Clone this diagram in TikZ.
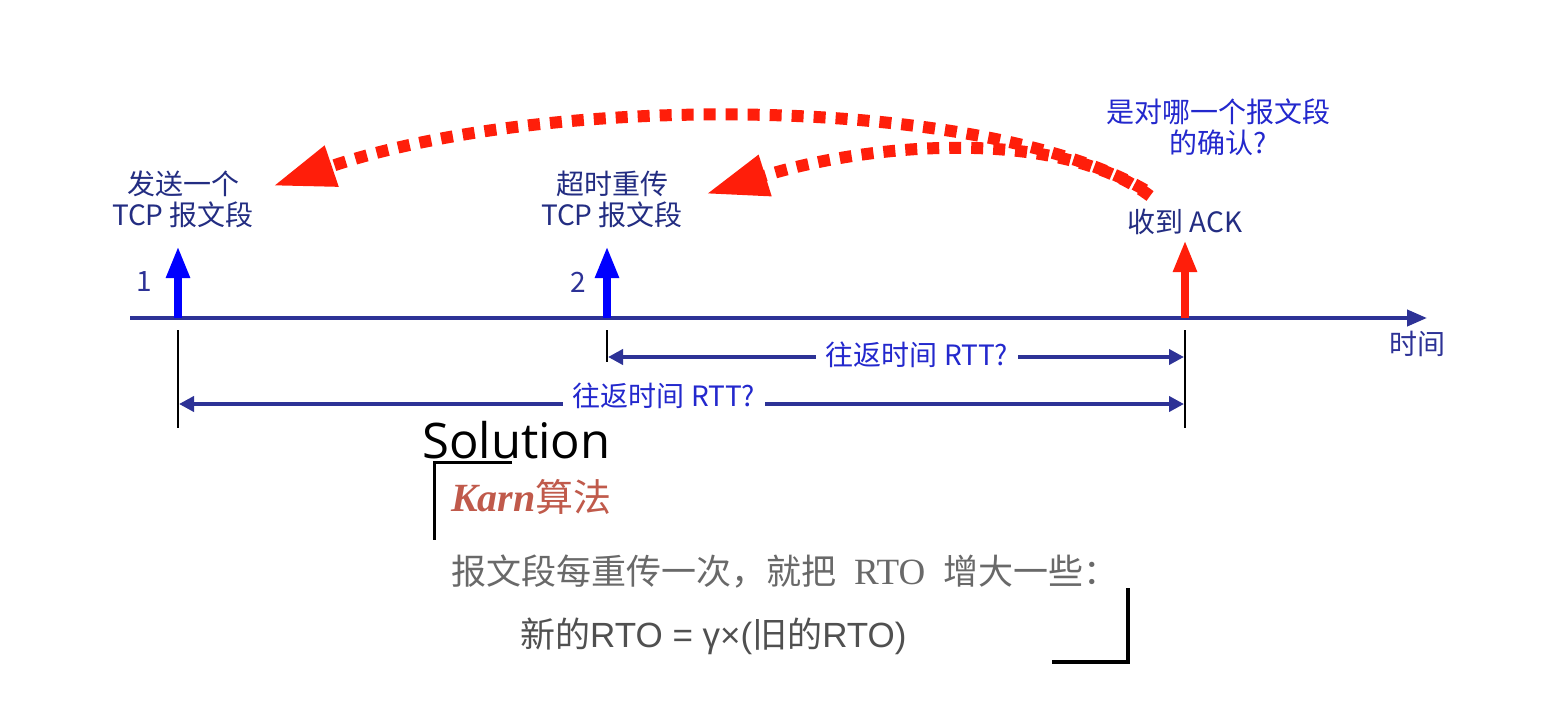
\documentclass[tikz,border=0pt]{standalone}
\usepackage{fontspec}
\setmainfont{Noto Sans CJK SC}
\newfontfamily\cjk{Noto Sans CJK SC}
\newfontfamily\solfont{Open Sans}
\newfontfamily\karnfont{Liberation Serif}
\newfontfamily\arialfont{Liberation Sans}
\usetikzlibrary{arrows.meta}
\definecolor{navy}{RGB}{35,45,130}
\definecolor{axis}{RGB}{45,50,150}
\definecolor{qblue}{RGB}{35,40,205}
\definecolor{pureblue}{RGB}{0,0,255}
\definecolor{ackred}{RGB}{255,30,10}
\definecolor{karn}{RGB}{192,90,75}
\definecolor{grey1}{RGB}{105,105,105}
\definecolor{grey2}{RGB}{80,80,80}
\tikzset{
  lbl/.style={text=navy,font=\cjk\fontsize{28}{31}\selectfont,inner sep=0pt,align=center},
  qlbl/.style={text=qblue,font=\cjk\fontsize{28}{31}\selectfont,inner sep=0pt,align=center},
  rttlbl/.style={text=qblue,font=\cjk\fontsize{28}{30}\selectfont,fill=white,inner xsep=10pt,inner ysep=0pt},
  sendarrow/.style={pureblue,line width=8pt,-{Triangle[length=32pt,width=22pt]}},
  ackarrow/.style={ackred,line width=8pt,-{Triangle[length=32pt,width=22pt]}},
  timeaxis/.style={axis,line width=4pt,-{Triangle[length=20pt,width=16pt]}},
  tick/.style={black,line width=2pt},
  rtt/.style={axis,line width=4pt,{Triangle[length=15pt,width=15pt]}-{Triangle[length=15pt,width=15pt]}},
  redarc/.style={ackred,line width=12pt,dash pattern=on 12pt off 10pt,-{Triangle[length=62pt,width=40pt]}},
  bracket/.style={black,line width=3pt},
}
\begin{document}
\begin{tikzpicture}[x=1pt,y=-1pt]
\useasboundingbox[fill=white] (0,0) rectangle (1546,701);

% timeline
\coordinate (axL) at (130,318);
\coordinate (axR) at (1427,318);
\draw[timeaxis] (axL) -- (axR);
\node[lbl,anchor=west,text=axis] (time) at (1389,344) {时间};

% event points
\coordinate (e1) at (178,318);
\coordinate (e2) at (607,318);
\coordinate (e3) at (1185,318);
\coordinate (t1) at (178,246);
\coordinate (t2) at (607,246);
\coordinate (t3) at (1185,240);
\draw[sendarrow] (e1) -- (t1);
\draw[sendarrow] (e2) -- (t2);
\draw[ackarrow] (e3) -- (t3);

\node[lbl,text=axis] (n1) at (144,282) {1};
\node[lbl,text=axis] (n2) at (578,282) {2};

\node[lbl] (send) at (183,199) {发送一个\\TCP 报文段};
\node[lbl] (resend) at (612,199) {超时重传\\TCP 报文段};
\node[lbl] (ack) at (1185,222) {收到 ACK};
\node[qlbl] (q) at (1218,127) {是对哪一个报文段\\的确认?};

% ticks
\coordinate (k1a) at (178,330); \coordinate (k1b) at (178,428);
\coordinate (k2a) at (607,330); \coordinate (k2b) at (607,362);
\coordinate (k3a) at (1185,330); \coordinate (k3b) at (1185,428);
\draw[tick] (k1a) -- (k1b);
\draw[tick] (k2a) -- (k2b);
\draw[tick] (k3a) -- (k3b);

% RTT arrows
\coordinate (r2a) at (608,357); \coordinate (r2b) at (1184,357);
\coordinate (r1a) at (179,404); \coordinate (r1b) at (1184,404);
\draw[rtt] (r2a) -- (r2b);
\draw[rtt] (r1a) -- (r1b);
\node[rttlbl] (rttA) at (917,355) {往返时间 RTT?};
\node[rttlbl] (rttB) at (664,396) {往返时间 RTT?};

% red dotted arcs
\coordinate (s1) at (1145,190);
\coordinate (s2) at (1150,196);
\coordinate (h1) at (273,186);
\coordinate (h2) at (706,194);
\draw[redarc] (s1) .. controls (980,95) and (550,92) .. (h1);
\draw[redarc] (s2) .. controls (1060,128) and (872,142) .. (h2);

% solution part
\node[anchor=west,inner sep=0pt,font=\solfont\fontsize{49}{52}\selectfont] (sol) at (422,440) {Solution};
\coordinate (b1a) at (512,462); \coordinate (b1c) at (434,462); \coordinate (b1b) at (434,540);
\draw[bracket] (b1a) -- (b1c) -- (b1b);
\node[anchor=west,inner sep=0pt,text=karn] (karn) at (451,497)
  {\karnfont\fontsize{40}{44}\selectfont\bfseries\itshape Karn\cjk\mdseries\upshape\fontsize{38}{44}\selectfont 算法};
\node[anchor=west,inner sep=0pt,text=grey1,font=\cjk\fontsize{35}{40}\selectfont] (line1) at (451,572)
  {报文段每重传一次，就把\hspace{18pt}{\karnfont\fontsize{37}{40}\selectfont RTO}\hspace{18pt}增大一些：};
\node[anchor=west,inner sep=0pt,text=grey2,font=\cjk\fontsize{35}{40}\selectfont] (line2) at (520,636)
  {新的{\arialfont RTO = γ×(}旧的{\arialfont RTO)}};
\coordinate (b2a) at (1128,588); \coordinate (b2c) at (1128,662); \coordinate (b2b) at (1052,662);
\draw[bracket,line width=4pt] (b2a) -- (b2c) -- (b2b);
\end{tikzpicture}
\end{document}
